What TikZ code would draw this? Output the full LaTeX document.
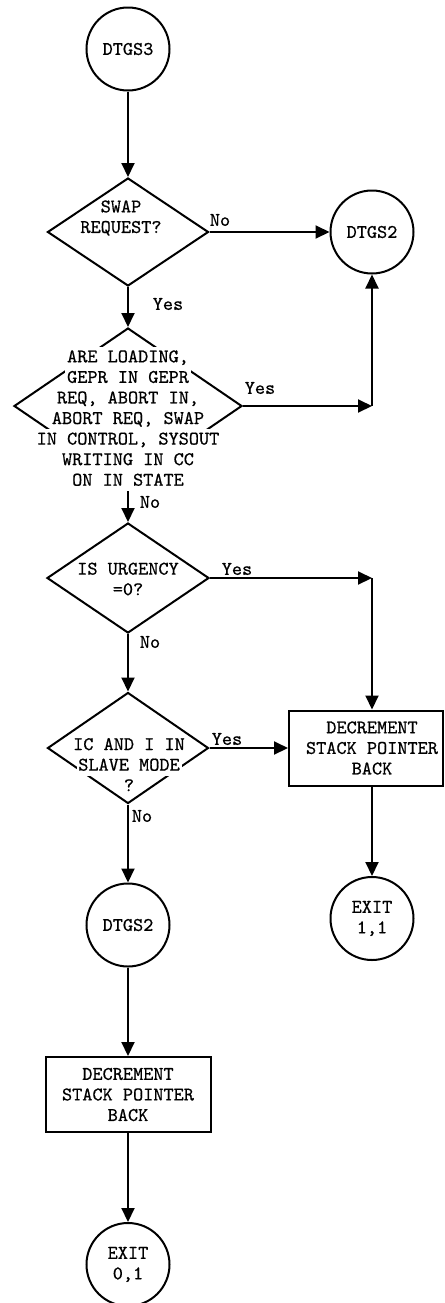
\documentclass[tikz,border=0pt]{standalone}
\usepackage{fontspec}
\usetikzlibrary{shapes.geometric,arrows.meta}
\newfontfamily\tw{Latin Modern Mono}[FakeBold=0.6]
\newcommand{\wl}[1]{\colorbox{white}{\hspace{1pt}\rule[-3pt]{0pt}{11.7pt}#1\hspace{1pt}}}
\setlength{\fboxsep}{0pt}

\begin{document}
\begin{tikzpicture}[
  every node/.style={font=\tw\fontsize{11}{11.7}\selectfont},
  term/.style={draw, circle, line width=0.04cm, minimum size=1.66cm, inner sep=0pt, align=center},
  decision/.style={draw, diamond, line width=0.04cm, inner sep=0pt},
  proc/.style={draw, rectangle, line width=0.04cm, minimum height=1.5cm},
  conn/.style={line width=0.04cm, -{Triangle[length=0.28cm,width=0.26cm]}}]
\useasboundingbox (0,0) rectangle (8.88,-26.06);
% left column
\path (2.56,-0.98) node[term] (dtgs3) {DTGS3};
\path (2.56,-4.64) node[decision, minimum width=3.22cm, minimum height=2.16cm] (q1) {};
\path (2.42,-4.36) node[align=center] (t1) {SWAP\\REQUEST?};
\path (2.56,-8.12) node[decision, minimum width=4.56cm, minimum height=3.12cm] (q2) {};
\path (2.56,-8.38) node[align=center, inner sep=0pt] (t2) {\wl{ARE LOADING,}\\\wl{GEPR IN GEPR}\\\wl{REQ, ABORT IN,}\\\wl{ABORT REQ, SWAP}\\\wl{IN CONTROL, SYSOUT}\\\wl{WRITING IN CC}\\\wl{ON IN STATE}};
\path (2.56,-11.56) node[decision, minimum width=3.24cm, minimum height=2.2cm] (q3) {};
\path (2.56,-11.58) node[align=center] (t3) {IS URGENCY\\=0?};
\path (2.56,-14.96) node[decision, minimum width=3.22cm, minimum height=2.22cm] (q4) {};
\path (2.58,-15.26) node[align=center, inner sep=0pt] (t4) {\wl{IC AND I IN}\\\wl{SLAVE MODE}\\?};
\path (2.56,-18.5) node[term] (dtgs2b) {DTGS2};
\path (2.56,-21.89) node[proc, minimum width=3.3cm, align=center] (dec2) {DECREMENT\\STACK POINTER\\BACK};
\path (2.56,-25.29) node[term] (exit01) {EXIT\\0,1};
% right column
\path (7.44,-4.64) node[term] (dtgs2a) {DTGS2};
\coordinate (c0) at (7.44,-8.12);
\coordinate (c1) at (7.44,-11.56);
\path (7.32,-14.96) node[proc, minimum width=3.08cm] (dec1) {};
\path (7.44,-14.96) node[align=center] (d1) {DECREMENT\\STACK POINTER\\BACK};
\path (7.44,-18.37) node[term] (exit11) {EXIT\\1,1};
% connectors
\draw[conn] (dtgs3) -- (q1.north);
\draw[conn] (q1.east) -- (dtgs2a.west);
\draw[conn] (q1.south) -- (q2.north);
\draw[conn] (q2.east) -- (c0);
\draw[conn] (c0) -- (dtgs2a.south);
\draw[conn] (t2.south) -- (q3.north);
\draw[conn] (q3.east) -- (c1);
\draw[conn] (c1) -- (dec1.north -| c1);
\draw[conn] (q3.south) -- (q4.north);
\draw[conn] (q4.east) -- (dec1.west);
\draw[conn] (q4.south) -- (dtgs2b.north);
\draw[conn] (dec1.south -| exit11) -- (exit11.north);
\draw[conn] (dtgs2b) -- (dec2);
\draw[conn] (dec2) -- (exit01);
% branch labels
\path (4.40,-4.40) node (no1) {No};
\path (3.36,-6.08) node (yes1) {Yes};
\path (5.20,-7.76) node (yes2) {Yes};
\path (3.00,-10.04) node (no2) {No};
\path (4.74,-11.38) node (yes3) {Yes};
\path (3.00,-12.84) node (no3) {No};
\path (4.54,-14.78) node (yes4) {Yes};
\path (2.84,-16.32) node (no4) {No};
\end{tikzpicture}
\end{document}
